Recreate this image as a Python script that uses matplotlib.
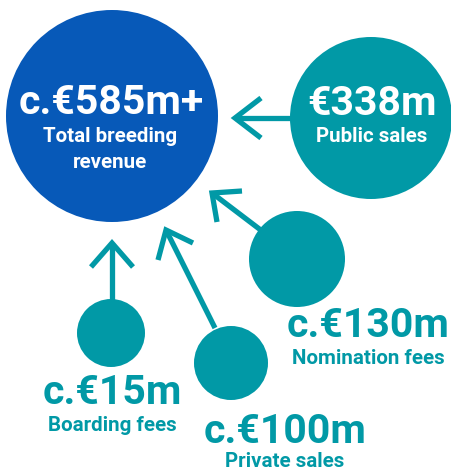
import matplotlib
matplotlib.use("Agg")
import matplotlib.pyplot as plt
from matplotlib.patches import Circle

# Data
categories = ["Total breeding revenue", "Public sales", "Nomination fees", "Private sales", "Boarding fees"]
values_label = ["c.€585m+", "€338m", "c.€130m", "c.€100m", "c.€15m"]
values_eur_m = [585, 338, 130, 100, 15]

BLUE = "#0759B8"
TEAL = "#0199A6"

W, H = 452, 471
fig = plt.figure(figsize=(W / 100, H / 100), dpi=100)
ax = fig.add_axes([0, 0, 1, 1])
ax.set_xlim(0, W)
ax.set_ylim(H, 0)
ax.set_aspect("equal")
ax.axis("off")

# layout (pixels)
circles = {
    "Total breeding revenue": (112, 116, 106, BLUE),
    "Public sales": (371, 118, 81, TEAL),
    "Nomination fees": (297, 259, 48, TEAL),
    "Private sales": (231, 363, 37, TEAL),
    "Boarding fees": (111, 333, 34, TEAL),
}
for name in categories:
    cx, cy, r, col = circles[name]
    ax.add_patch(Circle((cx, cy), r, color=col, lw=0, zorder=2))

# arrows: (start, tip, wing1, wing2)
arrows = [
    ((291, 118), (235, 118), (261, 98), (261, 138)),
    ((262, 231), (212, 193), (242, 191), (217, 222)),
    ((215, 328), (166, 230), (193, 243), (158, 260)),
    ((112, 300), (112, 243), (91, 267), (133, 267)),
]
lw = 3.8
for s, t, w1, w2 in arrows:
    ax.plot([s[0], t[0]], [s[1], t[1]], color=TEAL, lw=lw, solid_capstyle="butt", zorder=1)
    ax.plot([w1[0], t[0], w2[0]], [w1[1], t[1], w2[1]], color=TEAL, lw=lw,
            solid_capstyle="butt", solid_joinstyle="miter", zorder=1)

font = "Roboto"
big = 29.5
small = 14.8

# main circle text
ax.text(111, 103, values_label[0], color="white", fontsize=big, fontweight="bold",
        family=font, ha="center", va="center", zorder=3)
ax.text(110, 137, "Total breeding", color="white", fontsize=small, fontweight="bold",
        family=font, ha="center", va="center", zorder=3)
ax.text(110, 162, "revenue", color="white", fontsize=small, fontweight="bold",
        family=font, ha="center", va="center", zorder=3)

# public sales
ax.text(372, 104, values_label[1], color="white", fontsize=big, fontweight="bold",
        family=font, ha="center", va="center", zorder=3)
ax.text(372, 136, categories[1], color="white", fontsize=small, fontweight="bold",
        family=font, ha="center", va="center", zorder=3)

# outside labels
outside = [
    (2, 368, 326, 359),
    (3, 285, 432, 462),
    (4, 112, 393, 426),
]
for i, x, y1, y2 in outside:
    ax.text(x, y1, values_label[i], color=TEAL, fontsize=big, fontweight="bold",
            family=font, ha="center", va="center", zorder=3)
    ax.text(x, y2, categories[i], color=TEAL, fontsize=small, fontweight="bold",
            family=font, ha="center", va="center", zorder=3)

fig.savefig("out.png", dpi=100, facecolor="white")
